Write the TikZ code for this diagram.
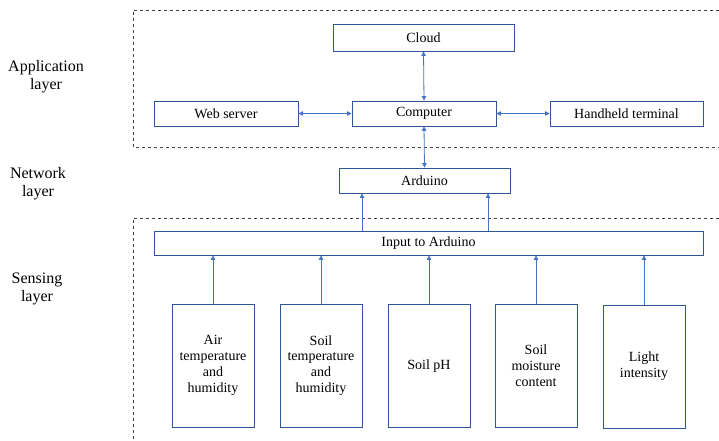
\documentclass[tikz,border=0pt]{standalone}
\usepackage{fontspec}
\setmainfont{Liberation Serif}
\usetikzlibrary{arrows.meta}
\definecolor{boxblue}{HTML}{2F5597}
\definecolor{arrblue}{HTML}{4472C4}
\tikzset{
  box/.style={draw=boxblue, line width=0.9pt, rectangle, inner sep=0pt, align=center, font=\fontsize{14}{15.8}\selectfont},
  conn/.style={draw=arrblue, line width=0.8pt},
  tipA/.tip={Triangle[length=4.5pt,width=4.5pt]},
  biarr/.style={conn, tipA-tipA},
  uparr/.style={conn, -tipA},
  layerlbl/.style={align=center, font=\fontsize{16}{18}\selectfont},
  frame/.style={draw=black!75, dashed, line width=0.7pt}
}
\begin{document}
\begin{tikzpicture}[x=1pt,y=-1pt]
\useasboundingbox (0,0) rectangle (719,441);
% layer frames
\draw[frame] (719,10) -- (133,10) -- (133,147) -- (719,147);
\draw[frame] (719,218) -- (133,218) -- (133,441);
% layer labels
\node[layerlbl] (lapp) at (46,76.5) {Application\\layer};
\node[layerlbl] (lnet) at (38,183.5) {Network\\layer};
\node[layerlbl] (lsen) at (37,289) {Sensing\\layer};
% application layer
\node[box, minimum width=181pt, minimum height=27pt] (cloud) at (423.5,37.5) {Cloud};
\node[box, minimum width=144pt, minimum height=25pt] (comp) at (424,113.5) {Computer};
\node[box, minimum width=144pt, minimum height=25pt] (web) at (226,113.5) {Web server};
\node[box, minimum width=153pt, minimum height=25pt] (hand) at (626.5,113.5) {Handheld terminal};
% network layer
\node[box, minimum width=171pt, minimum height=25pt] (ard) at (424.5,180.5) {Arduino};
% sensing layer
\node[box, minimum width=549pt, minimum height=24pt] (inp) at (428.5,243) {Input to Arduino};
\node[box, minimum width=82pt, minimum height=123pt] (s1) at (213,365.5) {Air\\temperature\\and\\humidity};
\node[box, minimum width=82pt, minimum height=123pt] (s2) at (321,365.5) {Soil\\temperature\\and\\humidity};
\node[box, minimum width=82pt, minimum height=123pt] (s3) at (429,366) {Soil pH};
\node[box, minimum width=82pt, minimum height=123pt] (s4) at (536,366) {Soil\\moisture\\content};
\node[box, minimum width=82pt, minimum height=123pt] (s5) at (644,366.5) {Light\\intensity};
% connectors
\draw[biarr] (comp.north) -- (cloud.south);
\draw[biarr] (web.east) -- (comp.west);
\draw[biarr] (comp.east) -- (hand.west);
\draw[biarr] (ard.north) -- (comp.south);
\draw[uparr] (inp.north -| 362,0) -- (ard.south -| 362,0);
\draw[uparr] (inp.north -| 488,0) -- (ard.south -| 488,0);
\foreach \s in {s1,s2,s3,s4,s5} {
  \draw[uparr] (\s.north) -- (\s.north |- inp.south);
}
\end{tikzpicture}
\end{document}
